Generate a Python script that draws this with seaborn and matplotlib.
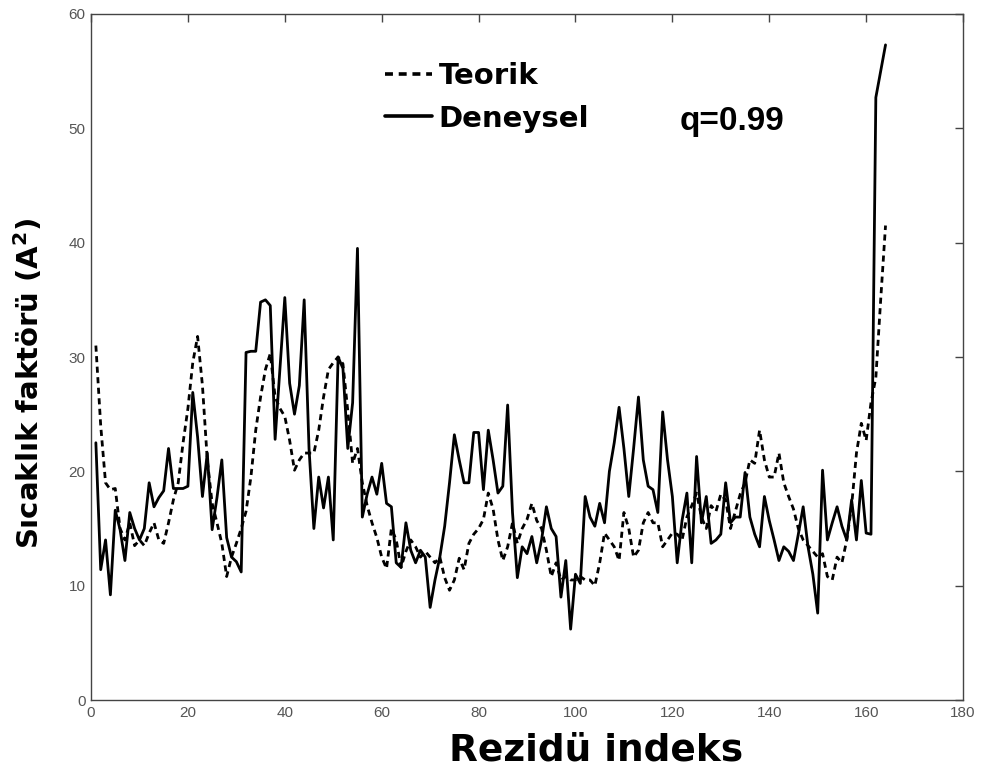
import matplotlib
matplotlib.use("Agg")
import matplotlib.pyplot as plt
import pandas as pd
import seaborn as sns

# Residue numbers and temperature factors (A^2)
residues = list(range(1, 165))

teorik = [
    31, 24, 19, 18.4, 18.5, 15, 14, 15.5, 13.5, 14,
    13.5, 14.6, 15.5, 14, 13.7, 15.5, 17.5, 19, 22.5, 25.5,
    29.5, 31.8, 27.5, 21, 17.2, 15.5, 13.7, 10.8, 12.5, 13.7,
    15, 16.5, 19.5, 23.6, 26.5, 28.9, 30.3, 26.5, 25.5, 24.8,
    22.7, 20.1, 21, 21.6, 21.6, 21.6, 23.6, 26.5, 28.9, 29.5,
    30, 29.4, 25.3, 20.7, 22, 19, 17, 15.5, 14.2, 12.5,
    11.5, 15, 14, 11.6, 13, 14, 13.4, 12.5, 13, 12.5,
    12, 12.5, 10.7, 9.6, 10.5, 12.4, 11.4, 13.7, 14.5, 15,
    15.8, 18.1, 16.7, 14, 12.2, 13.4, 15.5, 13.7, 15, 15.8,
    17.2, 15.7, 15, 13.1, 10.8, 12, 10.5, 10.8, 10.5, 10.5,
    10.8, 10.5, 10.5, 10, 12, 14.6, 14, 13.4, 12.2, 16.4,
    15, 12.5, 13.1, 15.5, 16.4, 15.5, 15.5, 13.4, 14, 14.6,
    14.5, 14, 16, 17, 18.1, 16, 15, 17, 16.5, 18,
    17.5, 15, 16.5, 18, 19, 21, 20.7, 23.6, 21, 19.5,
    19.5, 21.6, 19, 17.8, 16.7, 15, 14, 13.5, 13, 12.5,
    12.8, 10.8, 10.5, 12.5, 12, 14, 17, 21.6, 24.2, 22.7,
    26, 28.2, 35, 41.5,
]

deneysel = [
    22.5, 11.4, 14, 9.2, 16.6, 14.9, 12.2, 16.4, 15, 14,
    15, 19, 16.9, 17.7, 18.3, 22, 18.5, 18.5, 18.5, 18.7,
    26.9, 23, 17.8, 21.6, 14.9, 17.7, 21, 14.2, 12.5, 12.1,
    11.2, 30.4, 30.5, 30.5, 34.8, 35, 34.5, 22.8, 29, 35.2,
    27.7, 25, 27.5, 35, 22, 15, 19.5, 16.8, 19.5, 14,
    30, 29, 22, 26, 39.5, 16, 18, 19.5, 18, 20.7,
    17.2, 16.9, 12, 11.6, 15.5, 13.1, 12, 13.1, 12.5, 8.1,
    10.5, 12.5, 15.2, 19, 23.2, 21, 19, 19, 23.4, 23.4,
    18.4, 23.6, 21, 18.1, 18.7, 25.8, 16.4, 10.7, 13.4, 12.8,
    14.3, 12, 14, 16.9, 15, 14.3, 9, 12.2, 6.2, 11,
    10.2, 17.8, 16, 15.2, 17.2, 15.5, 20, 22.5, 25.6, 22,
    17.8, 22, 26.5, 21, 18.7, 18.4, 16.4, 25.2, 21, 17.8,
    12, 15.7, 18.1, 12, 21.3, 15.5, 17.8, 13.7, 14, 14.5,
    19, 15.5, 16, 16, 19.9, 16, 14.5, 13.4, 17.8, 15.7,
    14, 12.2, 13.4, 13, 12.2, 14.5, 16.9, 13.4, 11, 7.6,
    20.1, 14, 15.5, 16.9, 15.2, 14, 17.5, 14, 19.2, 14.6,
    14.5, 52.7, 55, 57.3,
]

series_names = ["Teorik", "Deneysel"]
x_ticks = [0, 20, 40, 60, 80, 100, 120, 140, 160, 180]
y_ticks = [0, 10, 20, 30, 40, 50, 60]
q_label = "q=0.99"

df = pd.DataFrame({
    "Rezidü": residues * 2,
    "B": teorik + deneysel,
    "Seri": [series_names[0]] * len(teorik) + [series_names[1]] * len(deneysel),
})

sns.set_style("white")
plt.rcParams["font.family"] = ["DejaVu Sans"]
plt.rcParams["mathtext.fontset"] = "dejavusans"
plt.rcParams["text.color"] = "black"
plt.rcParams["axes.labelcolor"] = "black"

fig = plt.figure(figsize=(9.84, 7.69), dpi=100)
ax = fig.add_axes([0.0925, 0.0897, 0.8862, 0.8921])

sns.lineplot(
    data=df, x="Rezidü", y="B", style="Seri", style_order=series_names,
    dashes={"Teorik": (2.2, 1.6), "Deneysel": ""},
    color="black", linewidth=2.0, ax=ax, legend=True,
)

ax.set_xlim(0, 180)
ax.set_ylim(0, 60)
ax.set_xticks(x_ticks)
ax.set_yticks(y_ticks)
ax.tick_params(direction="in", top=True, right=True, length=6, width=1,
               color="#444444", labelsize=11, labelcolor="#555555", pad=4)
tick_font = ["Liberation Sans", "DejaVu Sans"]
for lab in ax.get_xticklabels() + ax.get_yticklabels():
    lab.set_family(tick_font)
for sp in ax.spines.values():
    sp.set_color("#444444")
    sp.set_linewidth(1.0)

ax.set_xlabel("Rezidü indeks", fontsize=27, fontweight="bold", color="black")
ax.xaxis.label.set_va("baseline")
ax.xaxis.set_label_coords(0.579, -0.0885)
ax.set_ylabel(r"Sıcaklık faktörü (A$^{\mathbf{2}}$)", fontsize=21,
              fontweight="bold", color="black")
ax.yaxis.set_label_coords(-0.0528, 0.462)

leg = ax.legend(
    loc="upper left", bbox_to_anchor=(0.337, 0.93), frameon=False,
    prop={"family": "DejaVu Sans", "weight": "bold", "size": 21},
    handlelength=1.6, handletextpad=0.25,
    labelspacing=0.5, borderpad=0, borderaxespad=0,
)
for line in leg.get_lines():
    line.set_linewidth(2.6)
for txt in leg.get_texts():
    txt.set_color("black")

ax.text(121.6, 50.6, q_label, fontsize=24, fontweight="bold", color="black",
        family=["Liberation Sans", "DejaVu Sans"], ha="left", va="center")

fig.savefig("out.png", dpi=100)
